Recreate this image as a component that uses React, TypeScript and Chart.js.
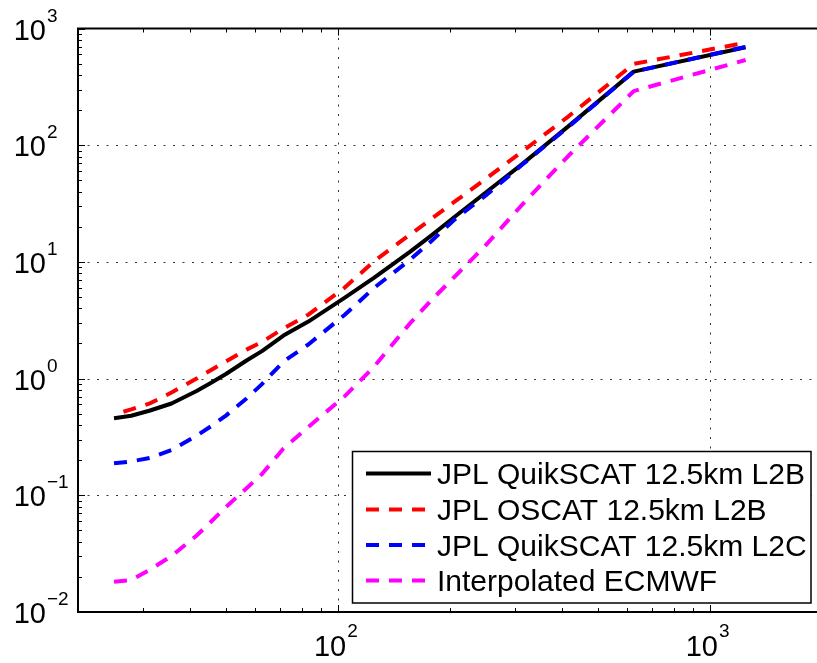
import React, { useEffect, useRef } from 'react';
import { Chart, registerables } from 'chart.js';

Chart.register(...registerables);

// Wavelength (km) samples
const WAVELENGTH = [25, 27.8, 31.25, 35.7, 41.7, 45.5, 50, 56.8, 62.5, 71.4, 83.3, 104.2, 125, 156.25, 178.6, 208.3, 250, 312.5, 416.7, 625, 1250];
const WAVELENGTH_OSCAT = [26.5, 27.8, 31.25, 35.7, 41.7, 45.5, 50, 56.8, 62.5, 71.4, 83.3, 104.2, 125, 156.25, 178.6, 208.3, 250, 312.5, 416.7, 625, 1250];

// Spectral density values
const QSCAT_L2B = [0.457, 0.48, 0.533, 0.612, 0.783, 0.917, 1.095, 1.43, 1.72, 2.34, 3.08, 4.91, 7.3, 12.2, 16.9, 25.0, 39.3, 68.5, 145, 427, 690];
const OSCAT_L2B = [0.52, 0.544, 0.614, 0.76, 1.0, 1.18, 1.4, 1.77, 2.06, 2.69, 3.53, 6.0, 10.1, 17.1, 23.4, 33.6, 51.5, 87.7, 176, 497, 755];
const QSCAT_L2C = [0.188, 0.195, 0.209, 0.244, 0.324, 0.389, 0.482, 0.676, 0.897, 1.4, 1.96, 3.51, 5.97, 10.4, 15.1, 23.8, 37.1, 67.6, 143, 427, 695];
const ECMWF = [0.0182, 0.0188, 0.0231, 0.0302, 0.0452, 0.059, 0.0794, 0.115, 0.152, 0.252, 0.385, 0.703, 1.26, 2.97, 4.71, 7.72, 13.9, 30.7, 80.8, 291, 537];

const SERIES_LABELS = [
  'JPL QuikSCAT 12.5km L2B',
  'JPL OSCAT 12.5km L2B',
  'JPL QuikSCAT 12.5km L2C',
  'Interpolated ECMWF',
];

const X_TICK_EXPONENTS = [2, 3];
const Y_TICK_EXPONENTS = [-2, -1, 0, 1, 2, 3];

const X_MIN = 20;
const X_MAX = 1945;
const Y_MIN = 0.01;
const Y_MAX = 1000;

const FONT = '"Liberation Sans", Arial, Helvetica, sans-serif';

function expText(e: number) {
  return e < 0 ? '\u2212' + String(-e) : String(e);
}

const matlabPlugin = {
  id: 'matlabStyle',
  beforeDatasetsDraw(chart: any) {
    const { ctx, chartArea: a } = chart;
    const xs = chart.scales.x;
    const ys = chart.scales.y;
    ctx.save();
    ctx.strokeStyle = '#333';
    ctx.lineWidth = 1;
    ctx.setLineDash([2, 7.5]);
    X_TICK_EXPONENTS.forEach((e) => {
      const px = Math.round(xs.getPixelForValue(Math.pow(10, e))) + 0.5;
      ctx.beginPath();
      ctx.moveTo(px, a.top);
      ctx.lineTo(px, a.bottom);
      ctx.stroke();
    });
    Y_TICK_EXPONENTS.forEach((e) => {
      const v = Math.pow(10, e);
      if (v <= Y_MIN || v >= Y_MAX) return;
      const py = Math.round(ys.getPixelForValue(v)) + 0.5;
      ctx.beginPath();
      ctx.moveTo(a.left, py);
      ctx.lineTo(a.right, py);
      ctx.stroke();
    });
    ctx.restore();
  },
  afterDraw(chart: any) {
    const { ctx, chartArea: a } = chart;
    const xs = chart.scales.x;
    const ys = chart.scales.y;
    ctx.save();
    ctx.setLineDash([]);
    ctx.strokeStyle = '#000';
    ctx.fillStyle = '#000';

    // tick marks (inside)
    ctx.lineWidth = 1;
    for (let e = 1; e <= 3; e++) {
      for (let m = 1; m <= 9; m++) {
        const v = m * Math.pow(10, e);
        if (v < X_MIN || v > X_MAX) continue;
        const len = m === 1 ? 7 : 4;
        const px = Math.round(xs.getPixelForValue(v)) + 0.5;
        ctx.beginPath();
        ctx.moveTo(px, a.bottom);
        ctx.lineTo(px, a.bottom - len);
        ctx.moveTo(px, a.top);
        ctx.lineTo(px, a.top + len);
        ctx.stroke();
      }
    }
    for (let e = -2; e <= 3; e++) {
      for (let m = 1; m <= 9; m++) {
        const v = m * Math.pow(10, e);
        if (v < Y_MIN * 0.999 || v > Y_MAX * 1.001) continue;
        const len = m === 1 ? 7 : 4;
        const py = Math.round(ys.getPixelForValue(v)) + 0.5;
        ctx.beginPath();
        ctx.moveTo(a.left, py);
        ctx.lineTo(a.left + len, py);
        ctx.stroke();
      }
    }

    // axes box
    ctx.lineWidth = 2;
    ctx.beginPath();
    ctx.moveTo(a.right, a.top);
    ctx.lineTo(a.left, a.top);
    ctx.lineTo(a.left, a.bottom);
    ctx.lineTo(a.right, a.bottom);
    ctx.stroke();

    // tick labels
    const baseFont = '29px ' + FONT;
    const supFont = '19px ' + FONT;
    ctx.textBaseline = 'alphabetic';
    Y_TICK_EXPONENTS.forEach((e) => {
      const py = ys.getPixelForValue(Math.pow(10, e));
      ctx.font = baseFont;
      ctx.textAlign = 'right';
      ctx.fillText('10', 46, py + 11);
      ctx.font = supFont;
      ctx.textAlign = 'left';
      ctx.fillText(expText(e), 47, py - 7);
    });
    X_TICK_EXPONENTS.forEach((e) => {
      const px = xs.getPixelForValue(Math.pow(10, e));
      ctx.font = baseFont;
      const wb = ctx.measureText('10').width;
      ctx.font = supFont;
      const we = ctx.measureText(expText(e)).width;
      const start = px - (wb + 1 + we) / 2 - 2;
      ctx.font = baseFont;
      ctx.textAlign = 'left';
      ctx.fillText('10', start, a.bottom + 44);
      ctx.font = supFont;
      ctx.fillText(expText(e), start + wb + 1, a.bottom + 25);
    });

    // legend
    const bx = 352.5, by = 451.5, bw = 458.5, bh = 151.5;
    ctx.fillStyle = '#fff';
    ctx.fillRect(bx, by, bw, bh);
    ctx.lineWidth = 1.5;
    ctx.strokeStyle = '#000';
    ctx.strokeRect(bx, by, bw, bh);
    const rows = [473.5, 509.5, 545, 580.5];
    chart.data.datasets.forEach((ds: any, r: number) => {
      const y = rows[r];
      ctx.save();
      ctx.strokeStyle = ds.borderColor;
      ctx.lineWidth = ds.borderWidth;
      ctx.setLineDash(ds.borderDash || []);
      ctx.beginPath();
      ctx.moveTo(366, y);
      ctx.lineTo(431, y);
      ctx.stroke();
      ctx.restore();
      ctx.fillStyle = '#000';
      ctx.font = '30px ' + FONT;
      ctx.textAlign = 'left';
      ctx.fillText(ds.label, 437, y + 10.5);
    });

    ctx.restore();
  },
};

export default function App() {
  const canvasRef = useRef<HTMLCanvasElement | null>(null);

  useEffect(() => {
    const canvas = canvasRef.current;
    if (!canvas) return;
    const mk = (xsArr: number[], ysArr: number[]) => xsArr.map((x, i) => ({ x, y: ysArr[i] }));
    const dash = [13, 10];
    const chart = new Chart(canvas, {
      type: 'line',
      data: {
        datasets: [
          {
            label: SERIES_LABELS[0],
            data: mk(WAVELENGTH, QSCAT_L2B),
            borderColor: '#000000',
            borderWidth: 4,
            pointRadius: 0,
            order: 4,
          },
          {
            label: SERIES_LABELS[1],
            data: mk(WAVELENGTH_OSCAT, OSCAT_L2B),
            borderColor: '#ff0000',
            borderWidth: 4,
            borderDash: dash,
            pointRadius: 0,
            order: 3,
          },
          {
            label: SERIES_LABELS[2],
            data: mk(WAVELENGTH, QSCAT_L2C),
            borderColor: '#0000ff',
            borderWidth: 4,
            borderDash: dash,
            pointRadius: 0,
            order: 2,
          },
          {
            label: SERIES_LABELS[3],
            data: mk(WAVELENGTH, ECMWF),
            borderColor: '#ff00ff',
            borderWidth: 4,
            borderDash: dash,
            pointRadius: 0,
            order: 1,
          },
        ] as any,
      },
      options: {
        animation: false,
        responsive: false,
        maintainAspectRatio: false,
        layout: { padding: { left: 78, top: 28.5, right: 0, bottom: 51 } },
        scales: {
          x: { type: 'logarithmic', min: X_MIN, max: X_MAX, display: false },
          y: { type: 'logarithmic', min: Y_MIN, max: Y_MAX, display: false },
        },
        plugins: {
          legend: { display: false },
          tooltip: { enabled: false },
        },
        elements: { line: { tension: 0, borderCapStyle: 'butt', borderJoinStyle: 'round' } },
      } as any,
      plugins: [matlabPlugin],
    });
    return () => chart.destroy();
  }, []);

  return (
    <div style={{ position: 'absolute', left: 0, top: 0, width: 817, height: 663, background: '#fff' }}>
      <canvas ref={canvasRef} width={817} height={663} style={{ display: 'block' }} />
    </div>
  );
}
